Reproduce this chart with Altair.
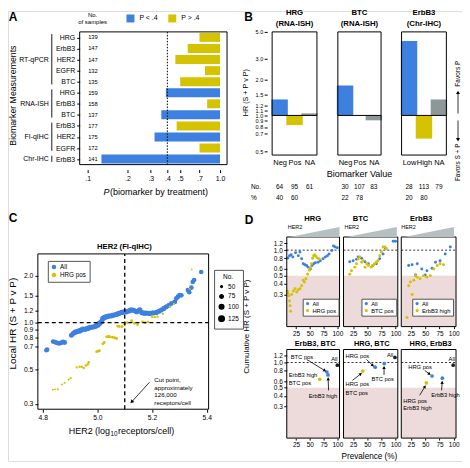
import math
import json
import pandas as pd
import altair as alt

BLUE = "#3d80e0"
YELLOW = "#d5c200"
GRAY = "#8d9797"
PINK = "#eddada"
WEDGE = "#b6c0c0"
FONT = "Liberation Sans"

W, H = 456, 452


def X(v):
    return round(v - 8, 2)


def Y(v):
    return round(v - 8, 2)


one = alt.Data(values=[{"k": 0}])

# ---------------- Panel A data ----------------
a_method = ["RT-qPCR"] * 5 + ["RNA-ISH"] * 3 + ["FI-qIHC"] * 3 + ["Chr-IHC"]
a_marker = ["HRG", "ErbB3", "HER2", "EGFR", "BTC", "HRG", "ErbB3", "BTC",
            "ErbB3", "HER2", "EGFR", "ErbB3"]
a_samples = [139, 147, 147, 132, 135, 159, 158, 137, 177, 175, 172, 141]
a_pvalue = [0.70, 0.57, 0.46, 0.77, 0.50, 0.39, 0.80, 0.36, 0.47, 0.32, 0.70, 0.127]
a_ticks = [0.1, 0.2, 0.3, 0.4, 0.5, 0.7, 1.0]
a_groups = ["RT-qPCR", "RNA-ISH", "FI-qIHC", "Chr-IHC"]

# ---------------- Panel B data ----------------
b_title = ["HRG", "BTC", "ErbB3"]
b_method = ["(RNA-ISH)", "(RNA-ISH)", "(Chr-IHC)"]
b_cats = [["Neg", "Pos", "NA"], ["Neg", "Pos", "NA"], ["Low", "High", "NA"]]
b_hr = [[1.36, 0.83, 1.04], [1.78, 1.00, 0.91], [4.20, 0.64, 1.36]]
b_n = [[64, 95, 61], [30, 107, 83], [28, 113, 79]]
b_pct = [[40, 60, None], [22, 78, None], [20, 80, None]]
b_ticks = [0.5, 0.7, 0.8, 0.9, 1.0, 1.1, 1.2, 1.5, 2.0, 3.0, 5.0]

# ---------------- Panel C data ----------------
c_all_her2 = [4.813, 4.816, 4.838, 4.845, 4.852, 4.860, 4.868, 4.874, 4.880,
              4.905, 4.911, 4.917, 4.923, 4.930, 4.935, 4.941, 4.947, 4.954, 4.960,
              4.966, 4.972, 4.980, 4.990, 4.996, 5.002, 5.008, 5.015, 5.020, 5.026,
              5.033, 5.040, 5.051, 5.060, 5.069, 5.078, 5.088, 5.097, 5.106, 5.115,
              5.124, 5.133, 5.143, 5.150, 5.155, 5.163, 5.171, 5.179, 5.191, 5.203,
              5.216, 5.225, 5.234, 5.243, 5.252, 5.262, 5.271, 5.283, 5.289, 5.295,
              5.301, 5.307, 5.331, 5.336, 5.344, 5.349, 5.354, 5.380]
c_all_hr = [0.665, 0.670, 0.756, 0.748, 0.740, 0.735, 0.742, 0.752, 0.745,
            0.830, 0.852, 0.865, 0.875, 0.882, 0.885, 0.898, 0.910, 0.905, 0.912,
            0.920, 0.929, 0.935, 0.943, 0.955, 0.966, 0.990, 1.015, 1.065, 1.080,
            1.093, 1.100, 1.108, 1.118, 1.130, 1.145, 1.164, 1.170, 1.176, 1.190,
            1.206, 1.200, 1.176, 1.190, 1.206, 1.160, 1.150, 1.150, 1.147, 1.155,
            1.164, 1.185, 1.206, 1.235, 1.266, 1.295, 1.330, 1.360, 1.430, 1.470,
            1.505, 1.500, 1.620, 1.570, 1.680, 1.830, 1.880, 2.120]
c_all_n = [100, 100, 105, 105, 105, 108, 108, 110, 110,
           112, 112, 115, 115, 115, 118, 118, 118, 120, 120,
           120, 120, 122, 122, 122, 122, 124, 124, 124, 124,
           125, 125, 125, 125, 125, 125, 124, 124, 124, 122,
           122, 122, 120, 120, 120, 118, 118, 118, 116, 116,
           115, 115, 114, 114, 112, 112, 110, 110, 108, 108,
           106, 106, 104, 104, 102, 102, 100, 100]
c_pos_her2 = [4.837, 4.845, 4.855, 4.870, 4.880, 4.895, 4.902, 4.924, 4.935, 4.943,
              4.950, 4.958, 4.965, 4.968, 4.997, 5.003, 5.008, 5.020, 5.025, 5.034,
              5.040, 5.045, 5.055, 5.063, 5.070, 5.074, 5.080, 5.090, 5.100, 5.110,
              5.125, 5.136, 5.147, 5.165, 5.175, 5.185, 5.200, 5.210, 5.220, 5.240,
              5.265, 5.280, 5.337, 5.345]
c_pos_hr = [0.370, 0.372, 0.372, 0.400, 0.410, 0.430, 0.440, 0.515, 0.520, 0.520,
            0.510, 0.530, 0.540, 0.555, 0.650, 0.655, 0.660, 0.730, 0.745, 0.810,
            0.815, 0.812, 0.805, 0.800, 0.790, 0.950, 0.945, 0.940, 0.980, 1.000,
            1.030, 0.990, 0.970, 1.010, 1.000, 1.010, 1.090, 1.085, 1.090, 1.140,
            1.270, 1.320, 1.650, 2.200]
c_pos_n = [52, 52, 54, 54, 55, 55, 56, 56, 58, 58,
           58, 60, 60, 60, 62, 62, 62, 64, 64, 64,
           65, 65, 65, 66, 66, 66, 66, 66, 65, 65,
           64, 64, 63, 62, 62, 60, 60, 58, 58, 56,
           55, 54, 52, 50]
c_xticks = [4.8, 5.0, 5.2, 5.4]
c_yticks = [0.3, 0.5, 0.7, 0.8, 0.9, 1.0, 1.2, 1.5, 2.0]

# ---------------- Panel D data ----------------
d_top_labels = ["HRG pos", "BTC pos", "ErbB3 high"]
d_all_prev = [
    [10, 13, 16, 19, 24, 29, 32, 35, 38, 41, 44, 47, 51, 54, 57, 60, 65, 69, 74, 78, 82, 85, 90, 93, 96, 100],
    [19, 25, 31, 34, 40, 46, 52, 60, 66, 72, 78, 82, 96, 100],
    [21, 27, 33, 36, 44, 50, 53, 62, 68, 76, 85, 94],
]
d_all_hr = [
    [0.81, 0.86, 0.88, 0.83, 0.93, 0.86, 0.95, 0.79, 0.69, 0.67, 0.66, 0.63, 0.60,
     0.66, 0.69, 0.71, 0.72, 0.75, 0.79, 0.83, 0.86, 0.90, 0.99, 1.12, 1.09, 1.07],
    [0.73, 0.75, 0.78, 0.83, 0.80, 0.73, 0.69, 0.66, 0.69, 0.79, 0.90, 1.06, 1.27, 1.27],
    [0.66, 0.67, 0.51, 0.69, 0.60, 0.51, 0.57, 0.61, 0.72, 0.75, 0.90, 1.09],
]
d_sub_prev = [
    [9, 10, 12, 13, 14, 15, 17, 20, 23, 26, 29, 32, 35, 38, 40, 43, 46, 49, 51, 53, 55, 57, 59, 61, 64, 67],
    [19, 22, 28, 31, 34, 37, 40, 43, 46, 49, 52, 57, 60, 63, 66, 69, 72, 75, 78, 81, 84],
    [18, 21, 24, 27, 30, 33, 36, 41, 47, 53, 59, 65, 71, 76, 82],
]
d_sub_hr = [
    [0.33, 0.31, 0.29, 0.25, 0.22, 0.19, 0.30, 0.33, 0.35, 0.32, 0.34, 0.35, 0.38,
     0.44, 0.42, 0.46, 0.52, 0.58, 0.62, 0.69, 0.80, 0.86, 0.88, 0.84, 0.80, 0.79],
    [0.52, 0.57, 0.63, 0.69, 0.79, 0.83, 0.72, 0.75, 0.63, 0.69, 0.66, 0.63, 0.66,
     0.69, 0.72, 0.75, 0.86, 0.95, 1.09, 1.09, 1.04],
    [0.16, 0.38, 0.42, 0.30, 0.44, 0.50, 0.48, 0.46, 0.50, 0.48, 0.50, 0.60, 0.66, 0.69, 0.67],
]
d_bot_kind = [["All", "single", "single", "both"]] * 3
d_bot_prev = [[100, 81, 83, 68], [99, 64, 80, 42], [99, 62, 80, 52]]
d_bot_hr = [[0.93, 0.77, 0.71, 0.63], [1.15, 0.88, 0.97, 0.79], [0.93, 0.69, 0.65, 0.57]]
d_xticks = [25, 50, 75, 100]
d_yticks = [0.3, 0.4, 0.5, 0.6, 0.8, 1.0, 1.2]


# ---------------- helpers ----------------
def txt(x, y, s, size=7.0, weight="normal", align="center", angle=0, style="normal"):
    return alt.Chart(one).mark_text(
        text=s, fontSize=size, fontWeight=weight, align=align, angle=angle,
        fontStyle=style, baseline="middle", color="black"
    ).encode(x=alt.value(X(x)), y=alt.value(Y(y)))


def seg(x1, y1, x2, y2, width=0.8):
    return alt.Chart(one).mark_rule(color="black", strokeWidth=width).encode(
        x=alt.value(X(x1)), y=alt.value(Y(y1)), x2=alt.value(X(x2)), y2=alt.value(Y(y2)))


def arrow(x1, y1, x2, y2, head=16):
    dx, dy = x2 - x1, y2 - y1
    length = math.hypot(dx, dy)
    ux, uy = dx / length, dy / length
    h = 0.866 * math.sqrt(head) / 2
    cx, cy = x2 - ux * h, y2 - uy * h
    ang = round(math.degrees(math.atan2(dx, -dy)) % 360, 1)
    tip = alt.Chart(one).mark_point(shape="triangle-up", filled=True, size=head, angle=ang,
                                    color="black", opacity=1, strokeWidth=0).encode(
        x=alt.value(X(cx)), y=alt.value(Y(cy)))
    return [seg(x1, y1, cx, cy), tip]


def ax(show):
    # children of a panel leave the axis implicit when the panel shows it
    return {} if show else {"axis": None}


def frame(xd, yd, sx=True, sy=True):
    return alt.Chart(one).mark_rect(fillOpacity=0, stroke="black", strokeWidth=1).encode(
        x=alt.XDatum(xd[0], **ax(sx)), x2=alt.X2Datum(xd[1]),
        y=alt.YDatum(yd[0], **ax(sy)), y2=alt.Y2Datum(yd[1]))


AX = dict(domain=False, grid=False, labelOverlap=False, labelFlush=False, title=None,
          tickColor="black", labelColor="black")


def lin(domain, rng):
    return alt.Scale(domain=domain, range=rng, zero=False, nice=False)


def logs(domain, rng):
    return alt.Scale(type="log", domain=domain, range=rng, zero=False, nice=False)


layers = []

# ================= Panel A =================
dfA = pd.DataFrame({"row": list(range(12)), "marker": a_marker, "n": a_samples, "p": a_pvalue})
dfA["sig"] = ["P < .4" if p < 0.4 else "P > .4" for p in a_pvalue]
A_XD = [0.087, 1.13]
A_YD = [-0.5, 11.5]
xA = logs(A_XD, [X(80), X(228)])
yA = lin(A_YD, [Y(24), Y(167.3)])

barsA = alt.Chart(dfA).mark_bar(size=9, orient="horizontal").encode(
    x=alt.X("p:Q", scale=xA, axis=alt.Axis(
        orient="bottom", offset=Y(167.3) - H, values=a_ticks,
        labelExpr="replace(format(datum.value, '.1f'), '0.', '.')",
        tickSize=3, labelFontSize=7, labelPadding=2, **AX)),
    x2=alt.X2Datum(1.0),
    y=alt.Y("row:Q", scale=yA, axis=alt.Axis(
        orient="left", offset=-X(80), values=list(range(12)),
        labelExpr=json.dumps(a_marker) + "[datum.value]",
        tickSize=3, labelFontSize=7, labelPadding=2, **AX)),
    color=alt.Color("sig:N", scale=alt.Scale(domain=["P < .4", "P > .4"], range=[BLUE, YELLOW]),
                    legend=alt.Legend(orient="none", legendX=X(127), legendY=Y(11.5),
                                      direction="horizontal", title=None, symbolType="square",
                                      symbolSize=64, symbolStrokeWidth=0, labelFontSize=7,
                                      columnPadding=10, labelOffset=5, padding=0)),
)
dotA = alt.Chart(one).mark_rule(strokeDash=[1.5, 1.5], color="black", strokeWidth=1).encode(
    x=alt.XDatum(0.4), y=alt.YDatum(A_YD[0]), y2=alt.Y2Datum(A_YD[1]))
numsA = alt.Chart(dfA).mark_text(align="left", fontSize=5.8, color="black").encode(
    x=alt.value(X(88.5)), y=alt.Y("row:Q"), text="n:Q")
grp_first = [a_method.index(g) for g in a_groups]
grp_last = [len(a_method) - 1 - a_method[::-1].index(g) for g in a_groups]
dfG = pd.DataFrame({"method": a_groups, "first": grp_first, "last": grp_last})
grpText = alt.Chart(dfG).transform_calculate(mid="(datum.first + datum.last) / 2").mark_text(
    align="right", fontSize=7, color="black").encode(
    x=alt.value(X(49)), y=alt.Y("mid:Q"), text="method:N")
brackets = alt.Chart(dfG).transform_calculate(
    s="datum.first - 0.3", e="datum.last + 0.25").mark_rule(color="black", strokeWidth=0.9).encode(
    x=alt.value(X(52)), y=alt.Y("s:Q"), y2="e:Q")
layers.append(alt.layer(barsA, dotA, frame(A_XD, A_YD), numsA, grpText, brackets))
layers += [
    txt(13, 14.5, "A", size=12, weight="bold"),
    txt(93, 12, "No.", size=6),
    txt(93, 19.5, "of samples", size=6),
    txt(104, 190, "P", size=9, style="italic", align="left"),
    txt(110.5, 190, "(biomarker by treatment)", size=9, align="left"),
    txt(13, 93, "Biomarker Measurements", size=8.8, angle=270),
]

# ================= Panel B =================
B_XD = [-0.5, 2.5]
B_YD = [0.466, 5.0]
b_xr = [(268.3, 323.3), (334.3, 387.7), (398.3, 453.3)]
for i in range(3):
    sy = i == 0
    df = pd.DataFrame({"idx": [0, 1, 2], "n": b_n[i], "hr": b_hr[i]})
    dfp = pd.DataFrame({"idx": [k for k in range(3) if b_pct[i][k] is not None],
                        "pct": [v for v in b_pct[i] if v is not None]})
    xs = lin(B_XD, [X(b_xr[i][0]), X(b_xr[i][1])])
    ys = logs(B_YD, [Y(152.7), Y(29)])
    yaxis = alt.Axis(orient="left", offset=-X(b_xr[i][0]), values=b_ticks, format=".1f",
                     tickSize=3, labelFontSize=5.5, labelPadding=1.5, **AX) if sy else None
    bars = alt.Chart(df).mark_bar(size=16.5, orient="vertical").encode(
        x=alt.X("idx:Q", scale=xs, axis=alt.Axis(
            orient="bottom", offset=Y(152.7) - H, values=[0, 1, 2],
            labelExpr=json.dumps(b_cats[i]) + "[datum.value]", ticks=False,
            labelFontSize=7.5, labelPadding=3, **AX)),
        y=alt.Y("hr:Q", scale=ys, axis=yaxis),
        y2=alt.Y2Datum(1.0),
        color=alt.Color("idx:N", scale=alt.Scale(domain=[0, 1, 2], range=[BLUE, YELLOW, GRAY]),
                        legend=None),
    )
    base = alt.Chart(one).mark_rule(color="black", strokeWidth=1).encode(
        x=alt.XDatum(B_XD[0]), x2=alt.X2Datum(B_XD[1]), y=alt.YDatum(1.0, **ax(sy)))
    nt = alt.Chart(df).mark_text(fontSize=6.5, color="black").encode(
        x=alt.X("idx:Q"), y=alt.value(Y(185)), text="n:Q")
    pt = alt.Chart(dfp).mark_text(fontSize=6.5, color="black").encode(
        x=alt.X("idx:Q"), y=alt.value(Y(196)), text="pct:Q")
    t1 = alt.Chart(one).mark_text(text=b_title[i], fontSize=7.8, fontWeight="bold", color="black").encode(
        x=alt.XDatum(1), y=alt.value(Y(10)))
    t2 = alt.Chart(one).mark_text(text=b_method[i], fontSize=7.8, fontWeight="bold", color="black").encode(
        x=alt.XDatum(1), y=alt.value(Y(21)))
    layers.append(alt.layer(bars, base, frame(B_XD, B_YD, True, sy), nt, pt, t1, t2))
layers += [
    txt(249.5, 14.5, "B", size=12, weight="bold"),
    txt(247, 90, "HR (S + P v P)", size=7.2, angle=270),
    txt(361, 172, "Biomarker Value", size=9),
    txt(252, 185, "No.", size=6.5, align="left"),
    txt(252, 196, "%", size=6.5, align="left"),
    txt(460, 71, "Favors P", size=6.5, angle=270),
    txt(460, 160, "Favors S + P", size=6.5, angle=270),
]
layers += arrow(460, 111, 460, 88)
layers += arrow(460, 118, 460, 139)

# ================= Panel C =================
C_XD = [4.782, 5.407]
C_YD = [0.277, 2.77]
dfC = pd.DataFrame({
    "her2": c_all_her2 + c_pos_her2,
    "hr": c_all_hr + c_pos_hr,
    "n": c_all_n + c_pos_n,
    "grp": ["All"] * len(c_all_her2) + ["HRG pos"] * len(c_pos_her2),
})
xC = lin(C_XD, [X(38), X(209.5)])
yC = logs(C_YD, [Y(408), Y(252)])
ptsC = alt.Chart(dfC).mark_circle(opacity=1).encode(
    x=alt.X("her2:Q", scale=xC, axis=alt.Axis(
        orient="bottom", offset=Y(408) - H, values=c_xticks, format=".1f",
        tickSize=3, labelFontSize=6.8, labelPadding=2, **AX)),
    y=alt.Y("hr:Q", scale=yC, axis=alt.Axis(
        orient="left", offset=-X(38), values=c_yticks, format=".1f",
        tickSize=3, labelFontSize=6.8, labelPadding=2, **AX)),
    size=alt.Size("n:Q", scale=alt.Scale(domain=[50, 125], range=[3, 30], zero=False, nice=False),
                  legend=alt.Legend(orient="none", legendX=X(215), legendY=Y(268), title="No.",
                                    titleFontSize=6.5, titleFontWeight="normal", titleAnchor="middle",
                                    labelFontSize=6.5, values=[50, 75, 100, 125],
                                    symbolFillColor="black", symbolStrokeColor="black",
                                    strokeColor="#555555", padding=4, rowPadding=0,
                                    titlePadding=3, labelOffset=3)),
    color=alt.Color("grp:N", scale=alt.Scale(domain=["All", "HRG pos"], range=[BLUE, YELLOW]),
                    legend=alt.Legend(orient="none", legendX=X(48), legendY=Y(259), title=None,
                                      symbolType="circle", symbolSize=20, symbolStrokeWidth=0,
                                      labelFontSize=6.3, strokeColor="#555555", padding=3,
                                      rowPadding=1, labelOffset=3)),
)
vC = alt.Chart(one).mark_rule(strokeDash=[4, 3], color="black", strokeWidth=1.3).encode(
    x=alt.XDatum(5.1), y=alt.YDatum(C_YD[0]), y2=alt.Y2Datum(C_YD[1]))
hC = alt.Chart(one).mark_rule(strokeDash=[4, 3], color="black", strokeWidth=1.3).encode(
    y=alt.YDatum(1.0), x=alt.XDatum(C_XD[0]), x2=alt.X2Datum(C_XD[1]))
layers.append(alt.layer(ptsC, vC, hC, frame(C_XD, C_YD)))
layers += [
    txt(13, 216, "C", size=12, weight="bold"),
    txt(125, 245, "HER2 (FI-qIHC)", size=7.7, weight="bold"),
    txt(155, 379, "Cut point,", size=6.2, align="left"),
    txt(155, 386.5, "approximately", size=6.2, align="left"),
    txt(155, 394, "126,000", size=6.2, align="left"),
    txt(155, 401.5, "receptors/cell", size=6.2, align="left"),
    txt(110.5, 430, "HER2 (log", size=9, align="right"),
    txt(111, 433, "10", size=6.3, align="left"),
    txt(118.5, 430, "receptors/cell)", size=9, align="left"),
    txt(13, 322, "Local HR (S + P v P)", size=10, angle=270),
]
layers += arrow(150, 381, 131, 402)

# ================= Panel D =================
D_XD = [8, 104]
D_YD = [0.125, 1.43]
d_xr = [(288, 341), (345, 399.5), (403, 458)]
d_yr = [(325, 235), (437, 348)]


def d_panel(col, row, df, color, size):
    xr, yr = d_xr[col], d_yr[row]
    sy = col == 0
    xs = lin(D_XD, [X(xr[0]), X(xr[1])])
    ys = logs(D_YD, [Y(yr[0]), Y(yr[1])])
    xaxis = alt.Axis(orient="bottom", offset=Y(yr[0]) - H, values=d_xticks, tickSize=2,
                     labelFontSize=6.5, labelPadding=1.5, **AX)
    yaxis = alt.Axis(orient="left", offset=-X(xr[0]), values=d_yticks, format=".1f", tickSize=3,
                     labelFontSize=6.5, labelPadding=1.5, **AX) if sy else None
    pink = alt.Chart(one).mark_rect(color=PINK).encode(
        x=alt.XDatum(D_XD[0]), x2=alt.X2Datum(D_XD[1]),
        y=alt.YDatum(D_YD[0], **ax(sy)), y2=alt.Y2Datum(0.5))
    dash = alt.Chart(one).mark_rule(strokeDash=[2, 2], color="black", strokeWidth=0.8).encode(
        x=alt.XDatum(D_XD[0]), x2=alt.X2Datum(D_XD[1]), y=alt.YDatum(1.0, **ax(sy)))
    pts = alt.Chart(df).mark_circle(opacity=1, size=size).encode(
        x=alt.X("prev:Q", scale=xs, axis=xaxis), y=alt.Y("hr:Q", scale=ys, axis=yaxis), color=color)
    return alt.layer(pink, dash, pts, frame(D_XD, D_YD, True, sy))


leg_x = [304, 363, 414]
for c in range(3):
    df = pd.DataFrame({
        "prev": d_all_prev[c] + d_sub_prev[c],
        "hr": d_all_hr[c] + d_sub_hr[c],
        "grp": ["All"] * len(d_all_prev[c]) + [d_top_labels[c]] * len(d_sub_prev[c]),
    })
    color = alt.Color("grp:N", scale=alt.Scale(domain=["All", d_top_labels[c]], range=[BLUE, YELLOW]),
                      legend=alt.Legend(orient="none", legendX=X(leg_x[c]), legendY=Y(297),
                                        title=None, symbolType="circle", symbolSize=10,
                                        symbolStrokeWidth=0, labelFontSize=5.8,
                                        strokeColor="#555555", padding=2, rowPadding=0,
                                        labelOffset=2, fillColor="white"))
    layers.append(d_panel(c, 0, df, color, 9))

for c in range(3):
    df = pd.DataFrame({"prev": d_bot_prev[c], "hr": d_bot_hr[c], "kind": d_bot_kind[c]})
    color = alt.Color("kind:N", scale=alt.Scale(domain=["All", "single", "both"],
                                                range=["#222222", BLUE, YELLOW]), legend=None)
    layers.append(d_panel(c, 1, df, color, 14))

wedge = "M-1,0.2L1,-0.2L1,0.2Z"
for cx, hx in [(316, 289), (373.5, 346), (431, 403)]:
    layers.append(alt.Chart(one).mark_point(shape=wedge, filled=True, size=2500, color=WEDGE,
                                            opacity=1, strokeWidth=0).encode(
        x=alt.value(X(cx)), y=alt.value(Y(230))))
    layers.append(txt(hx, 225, "HER2", size=5.5, align="left"))

layers += [
    txt(250, 217.5, "D", size=12, weight="bold"),
    txt(314, 217, "HRG", size=7.6, weight="bold"),
    txt(362, 217, "BTC", size=7.6, weight="bold"),
    txt(423, 217, "ErbB3", size=7.6, weight="bold"),
    txt(316.5, 342, "ErbB3, BTC", size=7.4, weight="bold"),
    txt(373.3, 342, "HRG, BTC", size=7.4, weight="bold"),
    txt(432.5, 342, "HRG, ErbB3", size=7.4, weight="bold"),
    txt(248, 325, "Cumulative HR (S + P v P)", size=8, angle=270),
    txt(371, 456, "Prevalence (%)", size=8.2),
    txt(292, 356, "BTC pos", size=5.8, align="left"),
    txt(339, 358, "All", size=5.8, align="right"),
    txt(290, 374, "ErbB3 high", size=5.8, align="left"),
    txt(290, 382, "BTC pos", size=5.8, align="left"),
    txt(310, 395, "ErbB3 high", size=5.8, align="left"),
    txt(347, 355, "HRG pos", size=5.8, align="left"),
    txt(395, 354, "All", size=5.8, align="right"),
    txt(373, 378, "BTC pos", size=5.8, align="left"),
    txt(347, 383, "HRG pos", size=5.8, align="left"),
    txt(347, 391.5, "BTC pos", size=5.8, align="left"),
    txt(457, 358, "All", size=5.8, align="right"),
    txt(410, 366, "HRG pos", size=5.8, align="left"),
    txt(433, 394, "ErbB3 high", size=5.8, align="left"),
    txt(405, 399.5, "HRG pos", size=5.8, align="left"),
    txt(405, 406.5, "ErbB3 high", size=5.8, align="left"),
]
for a in [(308, 358, 327.5, 370), (330, 389, 329.5, 376),
          (368, 358, 375.5, 365), (385.7, 373.5, 385.7, 364.5), (354, 379, 363.5, 371.5),
          (426.5, 369, 432.5, 373.5), (443.5, 389, 444.2, 379.5), (421.5, 394, 427.5, 384)]:
    layers += arrow(*a, head=12)

chart = alt.layer(*layers).resolve_scale(
    x="independent", y="independent", color="independent", size="independent"
).properties(width=W, height=H, padding=0, background="white").configure_view(
    stroke=None
).configure(font=FONT).configure_axis(labelFont=FONT).configure_legend(
    labelFont=FONT, titleFont=FONT, labelColor="black", titleColor="black")

chart.save("out.html", embed_options={"renderer": "svg", "actions": False})
